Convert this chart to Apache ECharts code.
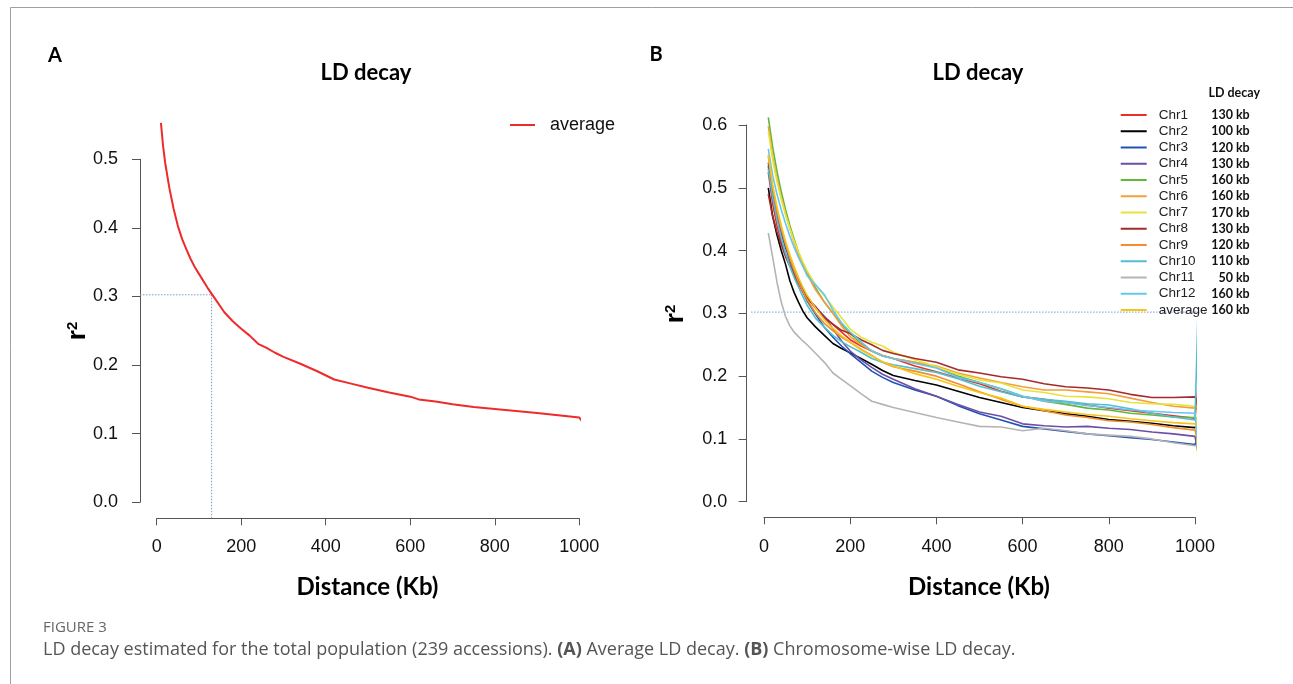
<!DOCTYPE html>
<html><head><meta charset="utf-8">
<script src="https://cdn.jsdelivr.net/npm/echarts@6/dist/echarts.min.js"></script>
<style>html,body{margin:0;padding:0;background:#fff}#c{width:1293px;height:684px}</style>
</head><body><div id="c"></div>
<script>
// ---------- Panel A data ----------
const distA = [10,15,20,30,40,50,60,70,80,90,100,120,140,160,180,200,220,240,260,280,300,340,380,420,460,500,550,600,620,660,700,750,800,850,900,950,1000,1012];
const r2A   = [0.553,0.520,0.495,0.458,0.428,0.403,0.384,0.369,0.355,0.343,0.333,0.313,0.295,0.277,0.264,0.253,0.243,0.231,0.225,0.218,0.212,0.202,0.191,0.179,0.173,0.167,0.160,0.154,0.150,0.147,0.143,0.139,0.136,0.133,0.130,0.127,0.1235,0.114];
const thresholdA = 0.3025, decayA = 130;

// ---------- Panel B data ----------
const distB = [10,20,30,40,50,60,70,80,90,100,120,140,160,180,200,225,250,275,300,350,400,450,500,550,600,650,700,750,800,850,900,950,1000,1012];
const chr1  = [0.525,0.475,0.440,0.415,0.395,0.378,0.362,0.348,0.335,0.325,0.308,0.295,0.282,0.270,0.258,0.248,0.240,0.233,0.228,0.216,0.207,0.197,0.188,0.176,0.167,0.163,0.158,0.154,0.149,0.145,0.141,0.137,0.133,0.218];
const chr2  = [0.500,0.455,0.425,0.400,0.378,0.352,0.333,0.318,0.304,0.293,0.278,0.265,0.252,0.244,0.237,0.228,0.219,0.209,0.201,0.193,0.186,0.176,0.166,0.158,0.150,0.145,0.140,0.136,0.131,0.128,0.125,0.121,0.118,0.126];
const chr3  = [0.535,0.490,0.455,0.428,0.405,0.385,0.366,0.350,0.334,0.320,0.298,0.278,0.262,0.248,0.236,0.222,0.208,0.198,0.190,0.178,0.168,0.153,0.140,0.130,0.120,0.116,0.112,0.108,0.105,0.102,0.099,0.095,0.091,0.110];
const chr4  = [0.540,0.490,0.455,0.430,0.410,0.390,0.372,0.355,0.338,0.325,0.310,0.295,0.275,0.256,0.240,0.226,0.214,0.203,0.195,0.180,0.168,0.155,0.143,0.136,0.124,0.121,0.119,0.120,0.117,0.115,0.111,0.108,0.104,0.060];
const chr5  = [0.612,0.565,0.527,0.494,0.465,0.440,0.418,0.397,0.380,0.365,0.340,0.318,0.300,0.283,0.268,0.252,0.240,0.232,0.228,0.222,0.214,0.200,0.190,0.180,0.168,0.160,0.155,0.149,0.146,0.141,0.138,0.135,0.134,0.130];
const chr6  = [0.598,0.550,0.515,0.485,0.458,0.435,0.413,0.393,0.376,0.362,0.337,0.318,0.300,0.280,0.263,0.250,0.240,0.233,0.228,0.222,0.216,0.205,0.197,0.190,0.183,0.178,0.178,0.175,0.172,0.165,0.158,0.152,0.149,0.160];
const chr7  = [0.590,0.545,0.510,0.482,0.457,0.435,0.415,0.398,0.382,0.368,0.345,0.328,0.310,0.293,0.275,0.262,0.254,0.248,0.238,0.226,0.215,0.203,0.194,0.189,0.178,0.174,0.168,0.167,0.164,0.158,0.156,0.155,0.152,0.005];
const chr8  = [0.490,0.455,0.430,0.410,0.390,0.375,0.360,0.347,0.335,0.325,0.310,0.293,0.283,0.273,0.268,0.258,0.250,0.241,0.236,0.228,0.222,0.210,0.205,0.199,0.195,0.188,0.183,0.181,0.178,0.171,0.166,0.166,0.167,0.150];
const chr9  = [0.550,0.500,0.463,0.435,0.410,0.388,0.368,0.350,0.335,0.322,0.300,0.284,0.272,0.262,0.254,0.243,0.233,0.222,0.215,0.208,0.200,0.188,0.175,0.163,0.152,0.145,0.138,0.134,0.129,0.127,0.123,0.118,0.114,0.080];
const chr10 = [0.530,0.485,0.450,0.420,0.395,0.375,0.357,0.342,0.327,0.313,0.292,0.278,0.265,0.255,0.247,0.238,0.228,0.222,0.218,0.212,0.206,0.196,0.184,0.175,0.167,0.163,0.160,0.156,0.154,0.148,0.141,0.135,0.130,0.430];
const chr11 = [0.428,0.390,0.350,0.318,0.295,0.280,0.270,0.263,0.256,0.250,0.236,0.222,0.205,0.195,0.185,0.172,0.160,0.155,0.150,0.142,0.134,0.127,0.120,0.119,0.113,0.117,0.113,0.108,0.106,0.104,0.100,0.094,0.089,0.090];
const chr12 = [0.562,0.520,0.490,0.465,0.443,0.423,0.405,0.389,0.375,0.360,0.345,0.330,0.305,0.285,0.270,0.255,0.240,0.232,0.228,0.220,0.213,0.198,0.190,0.180,0.168,0.160,0.158,0.153,0.150,0.146,0.144,0.142,0.141,0.050];
const avgB  = [0.553,0.505,0.470,0.440,0.415,0.393,0.374,0.357,0.342,0.329,0.308,0.290,0.276,0.264,0.254,0.242,0.232,0.223,0.216,0.204,0.195,0.184,0.174,0.165,0.152,0.147,0.143,0.139,0.136,0.132,0.129,0.126,0.124,0.118];
const chrNames = ['Chr1','Chr2','Chr3','Chr4','Chr5','Chr6','Chr7','Chr8','Chr9','Chr10','Chr11','Chr12','average'];
const chrDecay = ['130 kb','100 kb','120 kb','130 kb','160 kb','160 kb','170 kb','130 kb','120 kb','110 kb','50 kb','160 kb','160 kb'];
const chrValues = [chr1,chr2,chr3,chr4,chr5,chr6,chr7,chr8,chr9,chr10,chr11,chr12,avgB];
const chrColors = ['#e8302a','#000000','#2152b5','#6b4ea5','#62b83a','#f59d3d','#e6e33a','#a52a2a','#f28e2b','#52bfd0','#b4b4b4','#67c6ee','#f5c518'];
const thresholdB = 0.302;

const chart = echarts.init(document.getElementById('c'), null, {renderer:'canvas'});

const tickFont = 'Liberation Sans, Arial, sans-serif';
const boldFont = 'Lato, Carlito, sans-serif';

function xAx(gi, offset, margin){
  return {type:'value', gridIndex:gi, min:0, max:1000, interval:200, offset:offset,
    axisLine:{show:true, onZero:false, lineStyle:{color:'#555', width:1}},
    axisTick:{show:true, length:7, lineStyle:{color:'#555', width:1}},
    axisLabel:{margin:margin, fontSize:18, color:'#111', fontFamily:tickFont, formatter:v=>String(v)},
    splitLine:{show:false}};
}
function yAx(gi, max, offset, margin){
  return {type:'value', gridIndex:gi, min:0, max:max, interval:0.1, offset:offset,
    axisLine:{show:true, onZero:false, lineStyle:{color:'#555', width:1}},
    axisTick:{show:true, length:8, lineStyle:{color:'#555', width:1}},
    axisLabel:{margin:margin, fontSize:18, color:'#111', fontFamily:tickFont, formatter:v=>v.toFixed(1)},
    splitLine:{show:false}};
}

const seriesB = chrValues.map((vals,i)=>({
  type:'line', name:chrNames[i], xAxisIndex:1, yAxisIndex:1,
  data: distB.map((d,j)=>[d, vals[j]]),
  symbol:'none', showSymbol:false, clip:false, silent:true,
  lineStyle:{color:chrColors[i], width:1.6}, itemStyle:{color:chrColors[i]},
  z: 3
}));

const graphics = [
  {type:'line', shape:{x1:10.5,y1:7.5,x2:1293,y2:7.5}, style:{stroke:'#a0a0a0', lineWidth:1}, silent:true},
  {type:'line', shape:{x1:10.5,y1:7.5,x2:10.5,y2:684}, style:{stroke:'#a0a0a0', lineWidth:1}, silent:true},
  {type:'text', x:55, y:56, style:{text:'A', font:'bold 20px '+boldFont, fill:'#000', align:'center', verticalAlign:'middle'}},
  {type:'text', x:656, y:55, style:{text:'B', font:'bold 20px '+boldFont, fill:'#000', align:'center', verticalAlign:'middle'}},
  {type:'text', x:366, y:73, style:{text:'LD decay', font:'bold 22px '+boldFont, fill:'#000', align:'center', verticalAlign:'middle'}},
  {type:'text', x:978, y:73, style:{text:'LD decay', font:'bold 22px '+boldFont, fill:'#000', align:'center', verticalAlign:'middle'}},
  {type:'text', x:367.5, y:587, style:{text:'Distance (Kb)', font:'bold 24px '+boldFont, fill:'#000', align:'center', verticalAlign:'middle'}},
  {type:'text', x:979, y:587, style:{text:'Distance (Kb)', font:'bold 24px '+boldFont, fill:'#000', align:'center', verticalAlign:'middle'}},
  {type:'text', x:78, y:331, rotation:Math.PI/2, style:{text:'{a|r}{b|2}', align:'center', verticalAlign:'middle',
    rich:{a:{font:'bold 26px '+tickFont, fill:'#000', verticalAlign:'bottom'}, b:{font:'bold 15px '+tickFont, fill:'#000', verticalAlign:'top'}}}},
  {type:'text', x:676, y:314, rotation:Math.PI/2, style:{text:'{a|r}{b|2}', align:'center', verticalAlign:'middle',
    rich:{a:{font:'bold 26px '+tickFont, fill:'#000', verticalAlign:'bottom'}, b:{font:'bold 15px '+tickFont, fill:'#000', verticalAlign:'top'}}}},
  // legend A
  {type:'line', shape:{x1:510,y1:125,x2:535,y2:125}, style:{stroke:'#ee2b2b', lineWidth:2}},
  {type:'text', x:550, y:125, style:{text:'average', font:'18px '+tickFont, fill:'#111', align:'left', verticalAlign:'middle'}},
  // legend B header
  {type:'text', x:1260, y:93, style:{text:'LD decay', font:'bold 12.5px '+boldFont, fill:'#111', align:'right', verticalAlign:'middle'}},
  // caption
  {type:'text', x:43, y:628, style:{text:'FIGURE 3', font:'15px "Open Sans", sans-serif', fill:'#666', align:'left', verticalAlign:'middle'}},
  {type:'text', x:43, y:650, style:{
    text:'{n|LD decay estimated for the total population (239 accessions). }{b|(A)}{n| Average LD decay. }{b|(B)}{n| Chromosome-wise LD decay.}',
    align:'left', verticalAlign:'middle',
    rich:{n:{font:'18px "Open Sans", sans-serif', fill:'#555'}, b:{font:'bold 18px "Open Sans", sans-serif', fill:'#555'}}}}
];

const option = {
  animation:false,
  backgroundColor:'#fff',
  grid:[
    {left:156.7, top:159.3, width:422.6, height:343},
    {left:764, top:125, width:431, height:376.7}
  ],
  xAxis:[xAx(0,16,20), xAx(1,15.6,21)],
  yAxis:[yAx(0,0.5,16.7,22), yAx(1,0.6,17.3,19.5)],
  legend:[{
    show:true, orient:'vertical', left:1120.7, top:107, padding:0,
    itemWidth:26, itemHeight:2, itemGap:0.25, icon:'rect', selectedMode:false,
    data: chrNames.map((n,i)=>({name:n, icon:'rect', itemStyle:{color:chrColors[i]}})),
    formatter: name => '{n|' + name + '}{v|' + chrDecay[chrNames.indexOf(name)] + '}',
    textStyle:{lineHeight:16, rich:{
      n:{fontSize:13.5, fontFamily:tickFont, color:'#222', width:51, padding:[0,0,0,7], lineHeight:16},
      v:{fontSize:12.5, fontFamily:boldFont, fontWeight:'bold', color:'#111', width:40, align:'right', lineHeight:16}
    }}
  }],
  series:[
    {type:'line', name:'average', xAxisIndex:0, yAxisIndex:0,
      data: distA.map((d,i)=>[d, r2A[i]]),
      symbol:'none', showSymbol:false, clip:false, silent:true,
      lineStyle:{color:'#ee2b2b', width:2}, itemStyle:{color:'#ee2b2b'}
    }
  ].concat(seriesB),
  graphic: graphics
};
chart.setOption(option);

// dotted reference lines, placed through the charts' own scales
const dotStyle = {stroke:'#7d9bd3', lineWidth:1, lineDash:[1.5,1.5]};
const pA1 = chart.convertToPixel({gridIndex:0}, [-39.5, thresholdA]);
const pA2 = chart.convertToPixel({gridIndex:0}, [decayA, thresholdA]);
const pA3 = chart.convertToPixel({gridIndex:0}, [decayA, -0.0234]);
const pB1 = chart.convertToPixel({gridIndex:1}, [-30, thresholdB]);
const pB2 = chart.convertToPixel({gridIndex:1}, [1023, thresholdB]);
chart.setOption({graphic: graphics.concat([
  {type:'line', silent:true, z:1, shape:{x1:pA1[0],y1:pA1[1],x2:pA2[0],y2:pA2[1]}, style:dotStyle},
  {type:'line', silent:true, z:1, shape:{x1:pA2[0],y1:pA2[1],x2:pA3[0],y2:pA3[1]}, style:dotStyle},
  {type:'line', silent:true, z:1, shape:{x1:pB1[0],y1:pB1[1],x2:pB2[0],y2:pB2[1]}, style:dotStyle}
])});
</script></body></html>
